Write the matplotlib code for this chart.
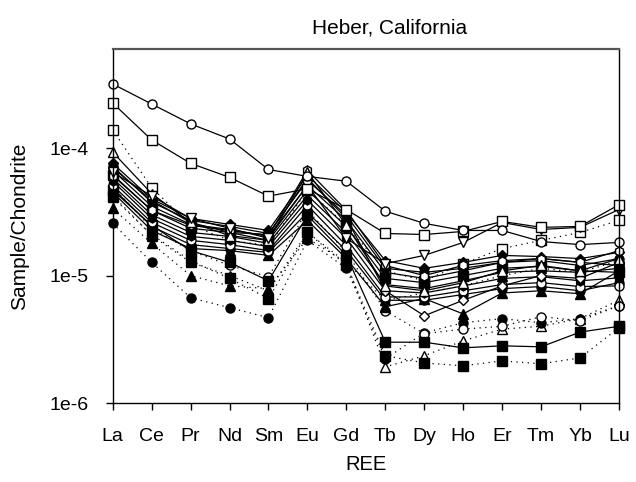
import numpy as np
import matplotlib
matplotlib.use('Agg')
import matplotlib.pyplot as plt
from matplotlib.ticker import NullLocator

plt.rcParams['font.family'] = ['Liberation Sans', 'DejaVu Sans']

ree = ['La', 'Ce', 'Pr', 'Nd', 'Sm', 'Eu', 'Gd', 'Tb', 'Dy', 'Ho', 'Er', 'Tm', 'Yb', 'Lu']

# sample/chondrite values, one list per sample
circ_top = [3.19e-4, 2.22e-4, 1.55e-4, 1.18e-4, 6.8e-5, 6.0e-5, 5.5e-5, 3.2e-5, 2.57e-5, 2.26e-5, 2.26e-5, 1.85e-5, 1.75e-5, 1.82e-5]
sq_top = [2.26e-4, 1.16e-4, 7.6e-5, 5.9e-5, 4.2e-5, 4.8e-5, 3.3e-5, 2.14e-5, 2.1e-5, 2.22e-5, 2.66e-5, 2.39e-5, 2.43e-5, 3.6e-5]
tri_down_open = [6.5e-5, 4.2e-5, 2.81e-5, 2.35e-5, 1.96e-5, 5.1e-5, 1.96e-5, 1.24e-5, 1.44e-5, 1.82e-5, 2.61e-5, 2.3e-5, 2.39e-5, 3.3e-5]
sq_dot = [1.39e-4, 4.9e-5, 2.48e-5, 1.89e-5, 1.72e-5, 4.67e-5, 2.48e-5, 1.09e-5, 9.1e-6, 1.24e-5, 1.63e-5, 1.89e-5, 2.18e-5, 2.71e-5]
tri_open = [9.3e-5, 4.4e-5, 2.61e-5, 2.06e-5, 1.89e-5, 6.5e-5, 2.48e-5, 8.3e-6, 7.6e-6, 8.8e-6, 1.09e-5, 1.2e-5, 1.09e-5, 1.36e-5]
hex_open = [6.1e-5, 3.25e-5, 2.48e-5, 2.26e-5, 2.06e-5, 6.7e-5, 3.25e-5, 1.2e-5, 1.0e-5, 1.2e-5, 1.31e-5, 1.36e-5, 1.27e-5, 1.57e-5]
dia_a = [7.6e-5, 4.0e-5, 2.81e-5, 2.52e-5, 2.26e-5, 6.1e-5, 3.13e-5, 1.31e-5, 1.14e-5, 1.27e-5, 1.44e-5, 1.41e-5, 1.36e-5, 1.52e-5]
circ_a = [7.2e-5, 3.76e-5, 2.71e-5, 2.43e-5, 2.14e-5, 5.6e-5, 2.97e-5, 1.14e-5, 1.06e-5, 1.14e-5, 1.27e-5, 1.31e-5, 1.2e-5, 1.36e-5]
tri_a = [6.7e-5, 3.5e-5, 2.52e-5, 2.3e-5, 2.03e-5, 5.1e-5, 2.71e-5, 1.06e-5, 9.5e-6, 1.09e-5, 1.27e-5, 1.36e-5, 1.27e-5, 1.2e-5]
sq_a = [6.2e-5, 3.25e-5, 2.35e-5, 2.18e-5, 1.89e-5, 4.67e-5, 2.43e-5, 9.5e-6, 8.8e-6, 1.0e-5, 1.14e-5, 1.18e-5, 1.09e-5, 1.06e-5]
dia_open = [7.0e-5, 3.9e-5, 2.61e-5, 2.18e-5, 2.1e-5, 5.8e-5, 2.81e-5, 7.6e-6, 4.84e-6, 6.4e-6, 8.3e-6, 1.0e-5, 9.5e-6, 1.27e-5]
tri_down = [5.8e-5, 3.0e-5, 2.18e-5, 2.03e-5, 1.79e-5, 4.26e-5, 2.18e-5, 8.5e-6, 7.9e-6, 9.1e-6, 1.06e-5, 1.09e-5, 1.06e-5, 1.14e-5]
hex_a = [5.5e-5, 2.81e-5, 2.03e-5, 1.89e-5, 1.69e-5, 3.9e-5, 1.96e-5, 7.6e-6, 7.3e-6, 8.3e-6, 9.5e-6, 9.8e-6, 9.1e-6, 9.6e-6]
circ_open = [5.1e-5, 2.61e-5, 1.89e-5, 1.75e-5, 1.57e-5, 3.56e-5, 1.72e-5, 6.8e-6, 6.8e-6, 7.6e-6, 8.5e-6, 8.8e-6, 8.2e-6, 8.3e-6]
circ_b = [4.84e-5, 2.43e-5, 1.75e-5, 1.63e-5, 1.52e-5, 3.13e-5, 1.57e-5, 6.4e-6, 6.4e-6, 7.1e-6, 7.9e-6, 8.2e-6, 7.6e-6, 8.8e-6]
tri_b = [4.5e-5, 2.26e-5, 1.63e-5, 1.57e-5, 1.44e-5, 2.71e-5, 1.36e-5, 5.7e-6, 6.6e-6, 5.0e-6, 7.3e-6, 7.6e-6, 7.2e-6, 1.09e-5]
sq_low = [4.67e-5, 2.48e-5, 1.57e-5, 1.27e-5, 9.1e-6, 2.97e-5, 1.44e-5, 3.0e-6, 3.0e-6, 2.71e-6, 2.81e-6, 2.76e-6, 3.6e-6, 4.0e-6]

# dotted samples
tri_open_dot = [4.26e-5, 2.06e-5, 1.27e-5, 1.0e-5, 7.6e-6, 2.18e-5, 1.27e-5, 1.92e-6, 2.35e-6, 3.08e-6, 3.8e-6, 4.0e-6, 4.6e-6, 6.4e-6]
circ_dot = [2.57e-5, 1.27e-5, 6.7e-6, 5.6e-6, 4.67e-6, 1.89e-5, 1.14e-5, 2.22e-6, 3.56e-6, 4.26e-6, 4.6e-6, 4.26e-6, 4.6e-6, 5.8e-6]
tri_dot = [3.37e-5, 1.79e-5, 1.0e-5, 8.3e-6, 7.9e-6, 1.96e-5, 1.27e-5, 6.4e-6, 7.3e-6, 8.3e-6, 1.0e-5, 1.14e-5, 1.06e-5, 1.31e-5]
sq_low_dot = [4.1e-5, 2.1e-5, 1.31e-5, 9.5e-6, 6.6e-6, 2.18e-5, 1.2e-5, 2.35e-6, 2.06e-6, 1.96e-6, 2.14e-6, 2.03e-6, 2.26e-6, 3.9e-6]
circ_open_dot = [5.0e-5, 2.35e-5, 1.57e-5, 1.2e-5, 9.8e-6, 3.25e-5, 1.52e-5, 5.3e-6, 3.5e-6, 3.8e-6, 4.0e-6, 4.76e-6, 4.42e-6, 5.8e-6]

DOT = (0, (1, 3.5))
# (values, marker, open?, linestyle)
series = [
    (tri_open_dot, '^', True, DOT),
    (circ_dot, 'o', False, DOT),
    (tri_dot, '^', False, DOT),
    (sq_low_dot, 's', False, DOT),
    (circ_open_dot, 'o', True, DOT),
    (sq_dot, 's', True, DOT),
    (sq_low, 's', False, '-'),
    (tri_b, '^', False, '-'),
    (circ_b, 'o', False, '-'),
    (circ_open, 'o', True, '-'),
    (hex_a, 'h', False, '-'),
    (tri_down, 'v', False, '-'),
    (dia_open, 'D', True, '-'),
    (sq_a, 's', False, '-'),
    (tri_a, '^', False, '-'),
    (circ_a, 'o', False, '-'),
    (dia_a, 'D', False, '-'),
    (hex_open, 'h', True, '-'),
    (tri_open, '^', True, '-'),
    (tri_down_open, 'v', True, '-'),
    (sq_top, 's', True, '-'),
    (circ_top, 'o', True, '-'),
]

fig = plt.figure(figsize=(6.36, 4.82), dpi=100)
ax = fig.add_axes([112.7 / 636, 1 - 403 / 482, (619 - 112.7) / 636, (403 - 49) / 482])

x = np.arange(len(ree))
for vals, mk, hollow, ls in series:
    ms = 5.3 if mk == 'D' else 6.5
    ax.plot(x, vals, color='black', linestyle=ls, linewidth=0.9,
            marker=mk, markersize=ms, markeredgewidth=1.0,
            markerfacecolor='white' if hollow else 'black',
            markeredgecolor='black', clip_on=False)

ax.set_yscale('log')
ax.set_ylim(1e-6, 6.0e-4)
ax.set_xlim(0, len(ree) - 1)
ax.set_yticks([1e-6, 1e-5, 1e-4])
ax.set_yticklabels(['1e-6', '1e-5', '1e-4'])
ax.yaxis.set_minor_locator(NullLocator())
ax.set_xticks(x)
ax.set_xticklabels(ree)
ax.tick_params(direction='out', length=5, width=1, labelsize=14,
               top=False, right=False)
ax.tick_params(axis='x', pad=13)
ax.tick_params(axis='y', pad=12)

for side in ['left', 'bottom', 'right']:
    ax.spines[side].set_color('black')
    ax.spines[side].set_linewidth(1.0)
ax.spines['top'].set_color('#555555')
ax.spines['top'].set_linewidth(1.6)

ax.set_xlabel('REE', fontsize=14.5, labelpad=7)
ax.set_ylabel('Sample/Chondrite', fontsize=15, labelpad=15)
ax.set_title('Heber, California', fontsize=15, pad=11, x=0.546)

fig.savefig('out.png', dpi=100)
